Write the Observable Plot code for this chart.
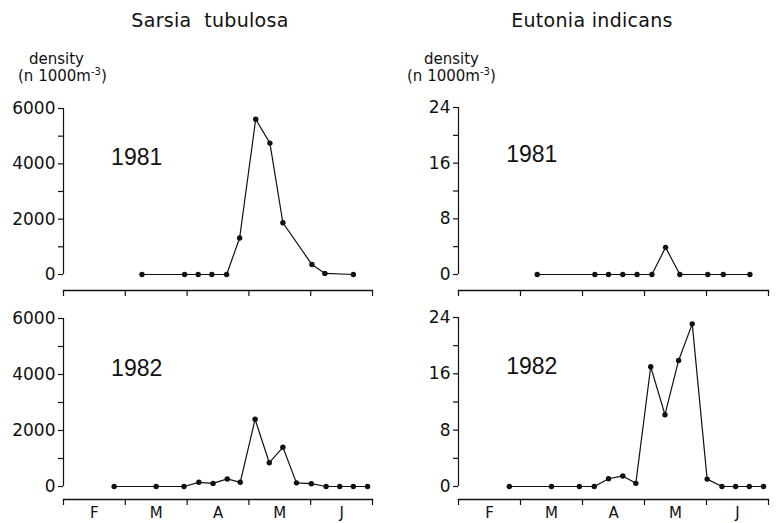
<!DOCTYPE html>
<html><head><meta charset="utf-8">
<script src="https://cdn.jsdelivr.net/npm/d3@7"></script>
<script src="https://cdn.jsdelivr.net/npm/@observablehq/plot@0.6"></script>
<style>
body{margin:0;background:#fff;}
#wrap{position:relative;width:776px;height:523px;overflow:hidden;font-family:"DejaVu Sans",sans-serif;color:#111;background:#fff;}
.abs{position:absolute;white-space:pre;}
.title{font-size:19px;line-height:19px;top:11px;width:300px;text-align:center;letter-spacing:0.3px;}
.unit{font-size:15px;line-height:17px;}
.unit sup{font-size:10px;line-height:0;vertical-align:6px;}
.panel{position:absolute;}
</style></head><body><div id="wrap"></div>
<script>
// ---- data ----
const months = ["F", "M", "A", "M", "J"];
const monthBounds = [0, 1, 2, 3, 4, 5];
const monthMids = [0.5, 1.5, 2.5, 3.5, 4.5];

const datesSarsia1981 = [1.27, 1.96, 2.18, 2.40, 2.64, 2.85, 3.11, 3.34, 3.55, 4.02, 4.23, 4.69];
const sarsia1981 = [0, 0, 0, 0, 0, 1320, 5610, 4750, 1870, 360, 40, 0];

const datesEutonia1981 = [1.27, 2.20, 2.42, 2.65, 2.88, 3.12, 3.34, 3.57, 4.02, 4.27, 4.70];
const eutonia1981 = [0, 0, 0, 0, 0, 0, 3.9, 0, 0, 0, 0];

const dates1982 = [0.82, 1.50, 1.95, 2.19, 2.42, 2.65, 2.86, 3.10, 3.33, 3.55, 3.77, 4.01, 4.25, 4.47, 4.69, 4.92];
const sarsia1982 = [0, 0, 0, 150, 110, 270, 150, 2400, 850, 1400, 130, 100, 0, 0, 0, 0];
const eutonia1982 = [0, 0, 0, 0, 1.1, 1.5, 0.45, 17.0, 10.2, 17.9, 23.1, 1.05, 0, 0, 0, 0];

const sarsiaTicks = [0, 1000, 2000, 3000, 4000, 5000, 6000];
const eutoniaTicks = [0, 4, 8, 12, 16, 20, 24];

const titles = ["Sarsia  tubulosa", "Eutonia indicans"];
const unitLine1 = "density";
const unitLine2 = "(n 1000m";
const unitSup = "-3";

// ---- layout ----
const wrap = document.getElementById("wrap");

function addDiv(cls, html, left, top) {
  const d = document.createElement("div");
  d.className = "abs " + cls;
  d.innerHTML = html;
  d.style.left = left + "px";
  d.style.top = top + "px";
  wrap.appendChild(d);
  return d;
}

addDiv("title", titles[0], 210 - 150, 11);
addDiv("title", titles[1], 592 - 150, 11);
addDiv("unit", unitLine1, 29, 51);
addDiv("unit", unitLine2 + "<sup>" + unitSup + "</sup>)", 18, 68);
addDiv("unit", unitLine1, 424, 51);
addDiv("unit", unitLine2 + "<sup>" + unitSup + "</sup>)", 407, 68);

function panel(o) {
  const data = o.xs.map((x, i) => ({x, y: o.ys[i]}));
  const yMax = o.ticks[o.ticks.length - 1];
  const chart = Plot.plot({
    width: o.width,
    height: o.height,
    marginTop: o.mTop,
    marginLeft: o.mLeft,
    marginRight: o.mRight,
    marginBottom: o.mBottom,
    x: {domain: [0, 5], axis: null, label: null},
    y: {domain: [0, yMax], insetBottom: o.inset, axis: null, label: null},
    style: {fontFamily: "DejaVu Sans, sans-serif", fontSize: "17px", color: "#111", background: "transparent", overflow: "visible"},
    marks: [
      Plot.ruleX([0], {y1: 0, y2: yMax, stroke: "#111", strokeWidth: 1.2}),
      Plot.axisY({ticks: o.ticks, tickSize: 5, tickPadding: 3, strokeWidth: 1.2, label: null,
        tickFormat: d => (d % o.labelEvery === 0 ? String(d) : "")}),
      Plot.frame({anchor: "bottom", stroke: "#111", strokeWidth: 1.3}),
      Plot.axisX({ticks: monthBounds, tickSize: 6, strokeWidth: 1.2, label: null, tickFormat: () => ""}),
      o.showMonths
        ? Plot.axisX({ticks: monthMids, tickSize: 0, tickPadding: 8, fontSize: 15, label: null,
            tickFormat: d => months[Math.floor(d)]})
        : null,
      Plot.line(data, {x: "x", y: "y", stroke: "#111", strokeWidth: 1.2}),
      Plot.dot(data, {x: "x", y: "y", r: 2.7, fill: "#111", stroke: "none"}),
      Plot.text([o.year], {x: () => 0.77, y: () => o.yearY, text: d => d, textAnchor: "start",
        fontSize: 23, fontFamily: "Liberation Sans, Arial, sans-serif", fill: "#111"})
    ]
  });
  chart.classList.add("panel");
  chart.style.left = o.left + "px";
  chart.style.top = o.top + "px";
  wrap.appendChild(chart);
}

panel({xs: datesSarsia1981, ys: sarsia1981, ticks: sarsiaTicks, labelEvery: 2000, year: "1981", yearY: 4230,
  left: 0, top: 95, width: 388, height: 205, mTop: 13, mLeft: 63, mRight: 16, mBottom: 10, inset: 16, showMonths: false});
panel({xs: datesEutonia1981, ys: eutonia1981, ticks: eutoniaTicks, labelEvery: 8, year: "1981", yearY: 17.2,
  left: 388, top: 95, width: 388, height: 205, mTop: 12, mLeft: 70, mRight: 8, mBottom: 10, inset: 16, showMonths: false});
panel({xs: dates1982, ys: sarsia1982, ticks: sarsiaTicks, labelEvery: 2000, year: "1982", yearY: 4200,
  left: 0, top: 303, width: 388, height: 220, mTop: 15, mLeft: 63, mRight: 16, mBottom: 24, inset: 13, showMonths: true});
panel({xs: dates1982, ys: eutonia1982, ticks: eutoniaTicks, labelEvery: 8, year: "1982", yearY: 17.0,
  left: 388, top: 303, width: 388, height: 220, mTop: 14, mLeft: 70, mRight: 8, mBottom: 24, inset: 13, showMonths: true});
</script>
</body></html>
